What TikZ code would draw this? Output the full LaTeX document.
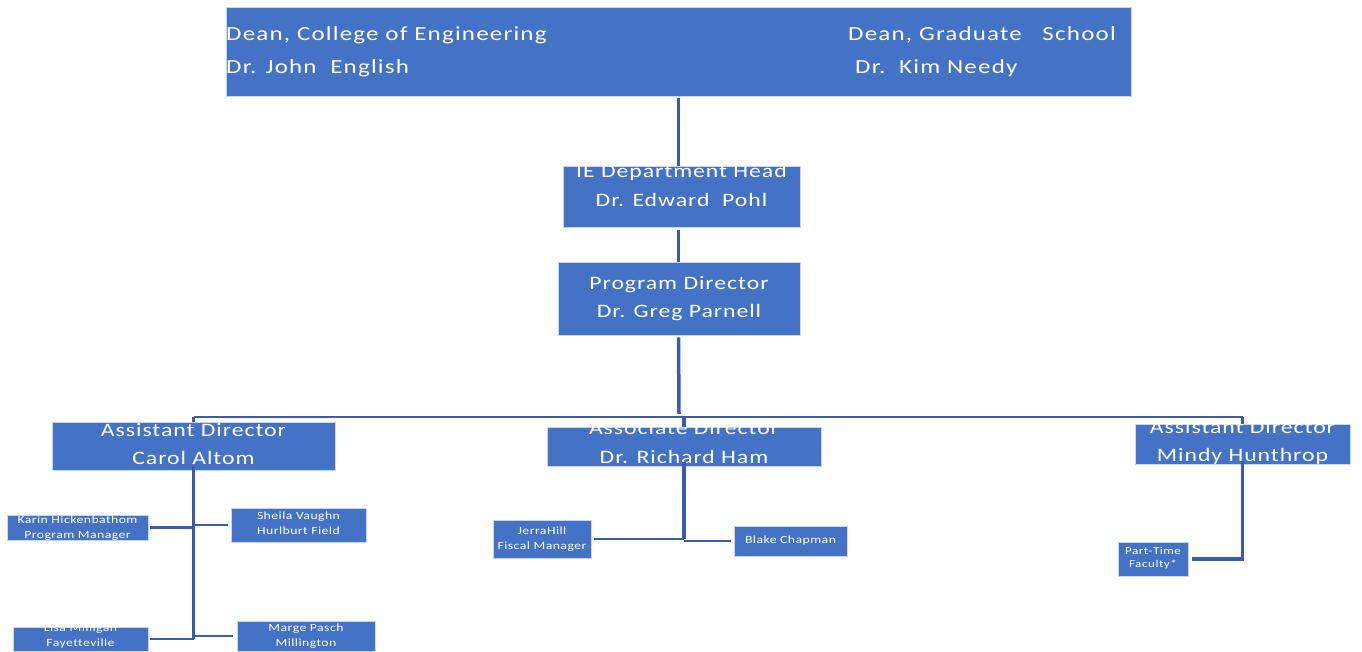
\documentclass[tikz,border=0pt]{standalone}
\usepackage{fontspec}
\setmainfont{Carlito}[FakeStretch=1.25,Ligatures=NoCommon]
\usetikzlibrary{positioning}
\definecolor{boxblue}{RGB}{68,114,196}
\definecolor{linkblue}{RGB}{59,92,168}

\begin{document}
\begin{tikzpicture}[
    x=1pt, y=-1pt,
    box/.style={rectangle,draw=white!70!boxblue,line width=0.8pt,fill=boxblue,inner sep=0pt},
    txt/.style={text=white,align=center,inner sep=0pt},
    head/.style={font=\fontsize{20}{33}\selectfont\addfontfeature{LetterSpace=6}},
    big/.style={font=\fontsize{19}{28.5}\selectfont\addfontfeature{LetterSpace=5}},
    small/.style={font=\fontsize{11}{15}\selectfont\addfontfeature{LetterSpace=4}},
    tiny/.style={font=\fontsize{10.5}{13}\selectfont\addfontfeature{LetterSpace=5}},
    link/.style={draw=linkblue,line width=3.5pt},
    hlink/.style={draw=linkblue,line width=2.5pt}
]
    \useasboundingbox (0,0) rectangle (1362,651);

    % Deans (top)
    \node[box,minimum width=905pt,minimum height=89pt] (deans) at (678.5,51.5) {};
    \node[txt,head,align=left,anchor=west] (engT) at (226,51.5)
        {Dean, College\ of\ Engineering\\Dr. John\ \ English};
    \node[txt,head,align=left,anchor=west] (gradT) at (848,51.5)
        {Dean, Graduate\ \ \ School\\\hspace{7pt}Dr.\ \ Kim Needy};

    % Department head and program director
    \node[box,minimum width=237pt,minimum height=61pt] (ie) at (681.5,196.5) {};
    \node[txt,big] (ieT) at (681.5,185.5) {IE Department Head\\Dr. Edward\ \ Pohl};
    \node[box,minimum width=242pt,minimum height=73pt] (pd) at (679,298.5) {};
    \node[txt,big] (pdT) at (679,298.5) {Program Director\\Dr. Greg Parnell};

    % Second level
    \node[box,minimum width=283pt,minimum height=48pt] (carol) at (193.5,446) {};
    \node[txt,big] (carolT) at (193.5,444) {Assistant Director\\Carol Altom};
    \node[box,minimum width=274pt,minimum height=39pt] (ham) at (684,446.5) {};
    \node[txt,big] (hamT) at (684,442.5) {Associate Director\\Dr. Richard Ham};
    \node[box,minimum width=215pt,minimum height=40pt] (mindy) at (1242.5,444) {};
    \node[txt,big] (mindyT) at (1242.5,442.5) {Assistant Director\\Mindy Hunthrop};

    % Staff under Carol Altom
    \node[box,minimum width=141pt,minimum height=25pt] (karin) at (77.5,527.5) {};
    \node[txt,small] (karinT) at (77.5,528) {Karin Hickenbathom\\Program Manager};
    \node[box,minimum width=135pt,minimum height=34pt] (sheila) at (298.5,525) {};
    \node[txt,small] (sheilaT) at (298.5,523.5) {Sheila Vaughn\\Hurlburt Field};
    \node[box,minimum width=135pt,minimum height=24pt] (lisa) at (80.5,639) {};
    \node[txt,small] (lisaT) at (80.5,636.5) {Lisa Milligan\\Fayetteville};
    \node[box,minimum width=138pt,minimum height=30pt] (marge) at (306,636) {};
    \node[txt,small] (margeT) at (306,636) {Marge Pasch\\Millington};

    % Staff under Richard Ham
    \node[box,minimum width=98pt,minimum height=38pt] (jerra) at (542,539) {};
    \node[txt,small] (jerraT) at (542,539.5) {JerraHill\\Fiscal\ Manager};
    \node[box,minimum width=113pt,minimum height=30pt] (blake) at (790.5,541) {};
    \node[txt,small] (blakeT) at (790.5,541) {Blake\ Chapman};

    % Staff under Mindy Hunthrop
    \node[box,minimum width=70pt,minimum height=34pt] (parttime) at (1153,559) {};
    \node[txt,tiny] (parttimeT) at (1153,558.5) {Part-Time\\Faculty*};

    % Upper chain
    \coordinate (bus) at (679,417);
    \draw[link] (deans.south) ++(0,2) -- (deans.south |- ie.north);
    \draw[link] (ie.south -| deans.south) ++(0,3) -- (deans.south |- pd.north);
    \draw[link] (pd.south -| deans.south) ++(0,2) -- ([yshift=3pt]bus);

    % Bus to second level
    \draw[hlink] (carol.north |- bus) -- (mindy.north |- bus);
    \draw[link] (carol.north |- bus) -- (carol.north);
    \draw[link] (ham.north |- bus) -- (ham.north);
    \draw[link] (mindy.north |- bus) -- (mindy.north);

    % Carol Altom branch
    \draw[link] ([yshift=4pt]carol.south) -- (carol.south |- lisa.east);
    \draw[hlink] ([xshift=2pt]karin.east) -- (karin.east -| carol.south);
    \draw[hlink] ([xshift=-3pt]sheila.west) -- (sheila.west -| carol.south);
    \draw[hlink] ([xshift=2pt]lisa.east) -- (lisa.east -| carol.south);
    \draw[hlink] ([xshift=-4pt]marge.west) -- (marge.west -| carol.south);

    % Richard Ham branch
    \draw[link] ([yshift=4pt]ham.south) -- (ham.south |- jerra.east);
    \draw[hlink] ([xshift=3pt]jerra.east) -- (jerra.east -| ham.south);
    \draw[hlink] ([xshift=-3pt]blake.west) -- (blake.west -| ham.south);

    % Mindy Hunthrop branch
    \draw[link] ([yshift=3pt]mindy.south) -- (mindy.south |- parttime.east) -- ([xshift=4pt]parttime.east);
\end{tikzpicture}
\end{document}
